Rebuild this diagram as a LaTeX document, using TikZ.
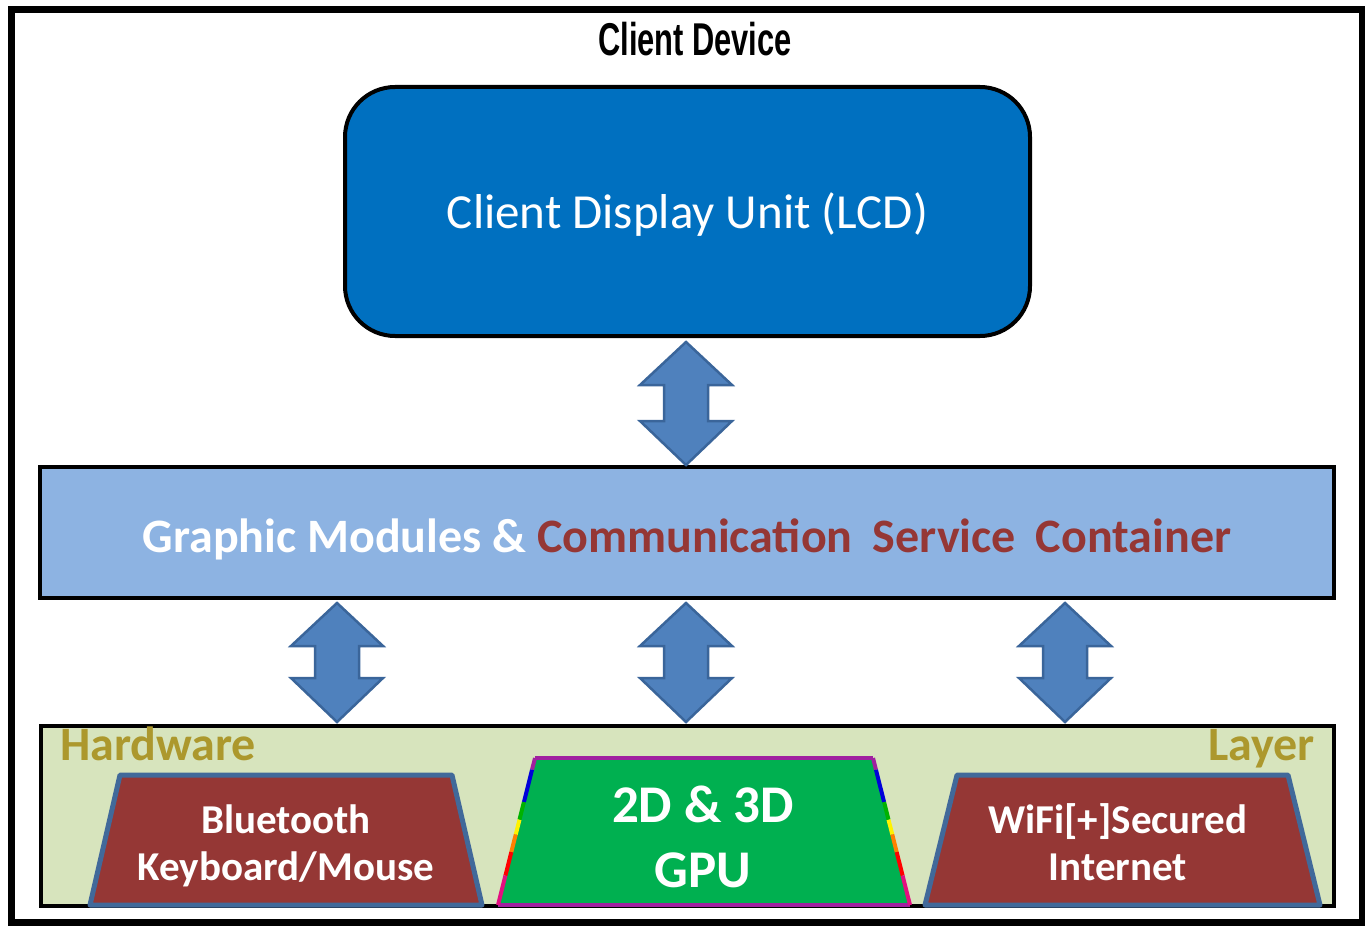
\documentclass[tikz,border=0pt]{standalone}
\usepackage{fontspec}
\setmainfont{Carlito}
\newfontfamily\titlefont{Liberation Sans}
\usetikzlibrary{calc}
\definecolor{dispblue}{HTML}{0070C0}
\definecolor{arrowfill}{HTML}{4F81BD}
\definecolor{arrowedge}{HTML}{3A659A}
\definecolor{barblue}{HTML}{8DB3E2}
\definecolor{darkred}{HTML}{953735}
\definecolor{hwgreen}{HTML}{D7E4BD}
\definecolor{olive}{RGB}{172,152,45}
\definecolor{trapedge}{HTML}{41699A}
\definecolor{gpugreen}{HTML}{00B050}
\definecolor{gpuedge}{HTML}{A020A0}
\tikzset{
  barrow/.style={fill=arrowfill, draw=arrowedge, line width=2.5pt, line join=miter},
  trapbox/.style={fill=darkred, draw=trapedge, line width=5pt, line join=round},
  hwtext/.style={text=white, font=\bfseries\fontsize{41}{47}\selectfont, align=center},
  layerlabel/.style={text=olive, inner sep=0pt, font=\bfseries\fontsize{48}{50}\selectfont},
}
\newcommand\dblarrow[2]{%
  \draw[barrow] let \p1=(#1), \p2=(#2) in
    (\x1,\y1) -- (\x1-46pt,\y1-43pt) -- (\x1-22pt,\y1-43pt) -- (\x1-22pt,\y2+44pt)
    -- (\x1-46pt,\y2+44pt) -- (\x1,\y2) -- (\x1+46pt,\y2+44pt) -- (\x1+22pt,\y2+44pt)
    -- (\x1+22pt,\y1-43pt) -- (\x1+46pt,\y1-43pt) -- cycle;}
\begin{document}
\begin{tikzpicture}[x=1pt,y=-1pt]
\useasboundingbox (0,0) rectangle (1367,928);
\fill[white] (0,0) rectangle (1367,928);
\draw[line width=6.5pt] (11.5,9.5) rectangle (1362,922.5);

\node (title) at (695,39) {\titlefont\bfseries\fontsize{46}{50}\selectfont\scalebox{0.67}[1]{Client Device}};

\node[draw=black, line width=4pt, fill=dispblue, rounded corners=50pt,
      minimum width=685pt, minimum height=249pt, text=white,
      font=\fontsize{49}{50}\selectfont] (disp) at (687.5,211.5) {\raisebox{-3pt}[\height][\depth]{Client Display Unit (LCD)}};

\node[draw=black, line width=4pt, fill=barblue, minimum width=1294pt, minimum height=131pt,
      font=\bfseries\fontsize{48}{50}\selectfont] (bar) at (687,532.5)
      {\raisebox{-7pt}[\height][\depth]{\textcolor{white}{Graphic Modules \&} \textcolor{darkred}{Communication\hspace{0.42em}Service\hspace{0.42em}Container}}};

\node[draw=black, line width=4pt, fill=hwgreen, minimum width=1293pt, minimum height=180pt] (hw) at (687.5,816) {};
\node[anchor=base west, layerlabel] (hwl) at (60,760) {Hardware};
\node[anchor=base east, layerlabel] (hwr) at (1315,760) {Layer};

% block arrows
\coordinate (a0t) at (686,342);
\coordinate (a0b) at (686,465);
\dblarrow{a0t}{a0b}
\coordinate (a1t) at (337,603);
\coordinate (a1b) at (337,722);
\coordinate (a2t) at (686,603);
\coordinate (a2b) at (686,722);
\coordinate (a3t) at (1065,603);
\coordinate (a3b) at (1065,722);
\dblarrow{a1t}{a1b}
\dblarrow{a2t}{a2b}
\dblarrow{a3t}{a3b}

% trapezoids
\draw[trapbox] (120,775) -- (452,775) -- (482,905) -- (90,905) -- cycle;
\node[hwtext] (bt) at (286,846) {Bluetooth\\Keyboard/Mouse};

\fill[gpugreen] (535,758) -- (873,758) -- (910,905) -- (498,905) -- cycle;
\draw[gpuedge, line width=4pt, line join=round] (498,905) -- (910,905);
\draw[gpuedge, line width=4pt, line join=round] (535,758) -- (873,758);
\foreach \a/\b/\c in {0/0.08/gpuedge, 0.08/0.3/blue!85!black, 0.3/0.42/green!70!black, 0.42/0.52/yellow, 0.52/0.64/orange, 0.64/0.8/red, 0.8/1/magenta!80!purple}{
  \draw[\c, line width=4pt] ($(535,758)!\a!(498,905)$) -- ($(535,758)!\b!(498,905)$);
  \draw[\c, line width=4pt] ($(873,758)!\a!(910,905)$) -- ($(873,758)!\b!(910,905)$);
}
\node[text=white, font=\bfseries\fontsize{53}{65}\selectfont, align=center] (gpu) at (703,837) {2D \& 3D\\GPU};

\draw[trapbox] (957,775) -- (1288,775) -- (1320,905) -- (925,905) -- cycle;
\node[hwtext] (wifi) at (1118,842) {WiFi[+]Secured\\Internet};
\end{tikzpicture}
\end{document}
